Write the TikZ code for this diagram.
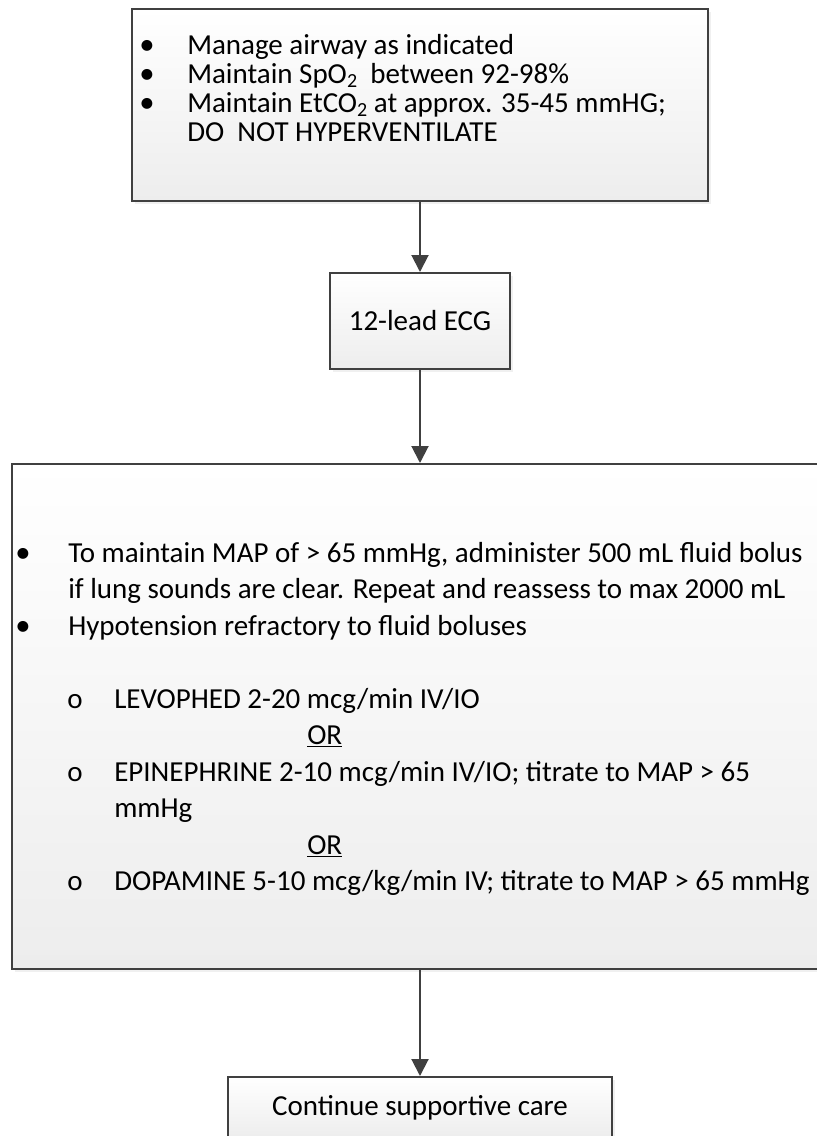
\documentclass[tikz,border=0pt]{standalone}
\usepackage{fontspec}
\setmainfont{Carlito}
\usetikzlibrary{arrows.meta,shadows}
\definecolor{edgegray}{HTML}{404040}
\definecolor{boxgray}{HTML}{EDEDED}
\newcommand{\low}[1]{\raisebox{-0.3ex}{\fontsize{15}{15}\selectfont #1}}
\begin{document}
\begin{tikzpicture}[x=0.75pt, y=-0.75pt,
  flowbox/.style={draw=edgegray, line width=1.5pt, top color=white, bottom color=boxgray,
    drop shadow={shadow xshift=2pt, shadow yshift=-2.5pt, opacity=0.12},
    font=\fontsize{21.75}{27}\selectfont},
  body/.style={anchor=base west, inner sep=0pt, font=\fontsize{21.75}{27}\selectfont},
  dot/.style={anchor=base, inner sep=0pt, font=\fontsize{23}{27}\selectfont},
  ring/.style={anchor=base, inner sep=0pt, font=\fontsize{21.75}{27}\selectfont},
  link/.style={draw=edgegray, line width=1.5pt, -{Triangle[width=12.75pt,length=12.75pt]}}]
\path[use as bounding box, clip] (0,0) rectangle (817,1136);
% boxes
\node[flowbox, minimum width=432pt, minimum height=144pt] (airway) at (420,105) {};
\node[flowbox, minimum width=135pt, minimum height=72pt] (ecg) at (420,321) {12-lead ECG};
\node[flowbox, minimum width=612pt, minimum height=378.75pt] (pressors) at (420,716.5) {};
\node[flowbox, minimum width=288pt, minimum height=46.5pt] (care) at (420,1108) {Continue supportive care};
% airway text
\node[dot] (a1) at (147,54) {\textbullet};
\node[body] (t1) at (187,54) {Manage airway as indicated};
\node[dot] (a2) at (147,83) {\textbullet};
\node[body] (t2) at (187,83) {Maintain SpO\low{2}\ \ between 92-98\%};
\node[dot] (a3) at (147,112) {\textbullet};
\node[body] (t3) at (187,112) {Maintain EtCO\low{2} at approx. 35-45 mmHG;};
\node[body] (t4) at (187,141) {DO\ \ NOT HYPERVENTILATE};
% pressor text
\node[dot] (p1) at (23,562) {\textbullet};
\node[body] (s1) at (68,562) {To maintain MAP of > 65 mmHg, administer 500 mL fluid bolus};
\node[body] (s2) at (68,598.5) {if lung sounds are clear. Repeat and reassess to max 2000 mL};
\node[dot] (p2) at (23,635) {\textbullet};
\node[body] (s3) at (68,635) {Hypotension refractory to fluid boluses};
\node[ring] (r1) at (75,708) {o};
\node[body] (s4) at (114,708) {LEVOPHED 2-20 mcg/min IV/IO};
\node[body] (s5) at (307,744.5) {\underline{OR}};
\node[ring] (r2) at (75,781) {o};
\node[body] (s6) at (114,781) {EPINEPHRINE 2-10 mcg/min IV/IO; titrate to MAP > 65};
\node[body] (s7) at (114,817.5) {mmHg};
\node[body] (s8) at (307,854) {\underline{OR}};
\node[ring] (r3) at (75,890.5) {o};
\node[body] (s9) at (114,890.5) {DOPAMINE 5-10 mcg/kg/min IV; titrate to MAP > 65 mmHg};
% arrows
\draw[link] (airway.south) -- (ecg.north);
\draw[link] (ecg.south) -- (pressors.north);
\draw[link] (pressors.south) -- (care.north);
\end{tikzpicture}
\end{document}
